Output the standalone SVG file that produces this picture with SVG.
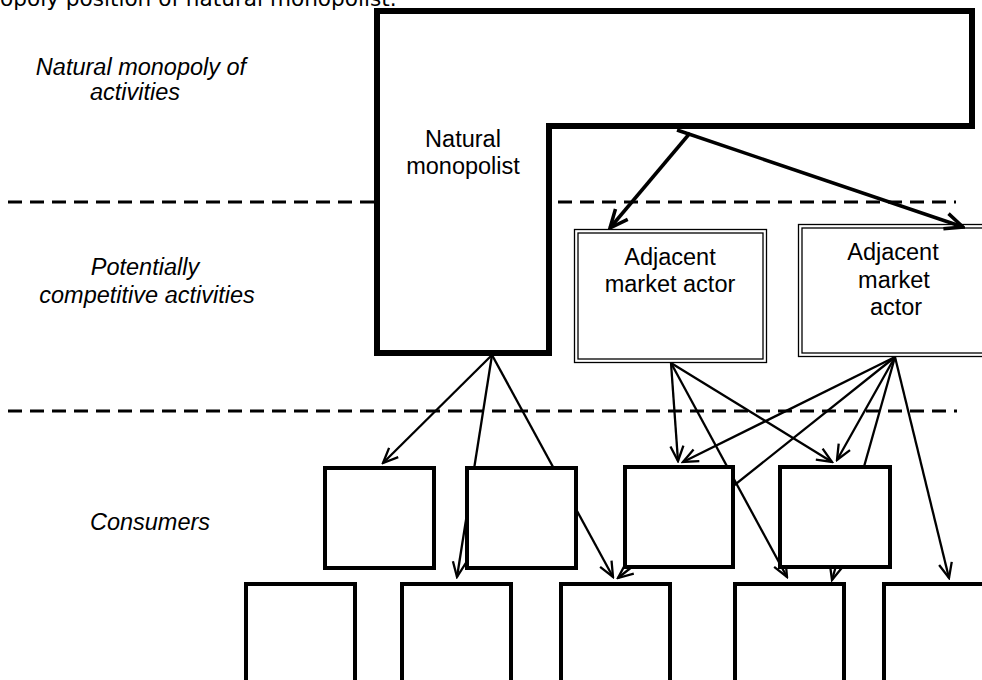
<svg xmlns="http://www.w3.org/2000/svg" width="982" height="680" viewBox="0 0 982 680">
<style>
.lbl{font-family:"Liberation Sans",Arial,sans-serif;font-size:23.5px;fill:#000;text-anchor:middle}
.it{font-style:italic}
.dash{stroke:#000;stroke-width:3;stroke-dasharray:14 8;fill:none}
.thick{fill:#fff;stroke:#000;stroke-width:6;stroke-linejoin:miter}
.dbl{fill:#fff;stroke:#000;stroke-width:1.3}
.cons{fill:#fff;stroke:#000;stroke-width:4}
.c1{stroke:#000;stroke-width:3.5;fill:none;marker-end:url(#ah1)}
.c2{stroke:#000;stroke-width:2.3;fill:none;marker-end:url(#ah2)}
</style>
<defs>
<marker id="ah1" markerUnits="userSpaceOnUse" viewBox="0 0 22 22" markerWidth="22" markerHeight="22" refX="20" refY="11" orient="auto">
<path d="M2,3 L20,11 L2,19" fill="none" stroke="#000" stroke-width="3.5"/>
</marker>
<marker id="ah2" markerUnits="userSpaceOnUse" viewBox="0 0 18 18" markerWidth="18" markerHeight="18" refX="16" refY="9" orient="auto">
<path d="M1,2.5 L16,9 L1,15.5" fill="none" stroke="#000" stroke-width="2.3"/>
</marker>
</defs>
<rect width="982" height="680" fill="#fff"/>
<text x="0" y="6" style="font-family:'DejaVu Sans',sans-serif;font-size:21.6px">opoly position of natural monopolist.</text>
<g id="labels">
<text class="lbl it" x="141" y="75">Natural monopoly of</text>
<text class="lbl it" x="135" y="100">activities</text>
<text class="lbl it" x="145" y="275">Potentially</text>
<text class="lbl it" x="147" y="303">competitive activities</text>
<text class="lbl it" x="150" y="530">Consumers</text>
</g>
<g id="dividers">
<line class="dash" x1="8" y1="202" x2="956" y2="202"/>
<line class="dash" x1="8" y1="411" x2="957" y2="411"/>
</g>
<g id="natural-monopolist">
<path class="thick" d="M377,11 H972 V126 H549 V353 H377 Z"/>
<text class="lbl" x="463" y="147">Natural</text>
<text class="lbl" x="463" y="174">monopolist</text>
</g>
<g id="adjacent-actor-1">
<rect class="dbl" x="574.5" y="229.5" width="192" height="133"/>
<rect class="dbl" x="578" y="233" width="185" height="126"/>
<text class="lbl" x="670" y="265">Adjacent</text>
<text class="lbl" x="670" y="292">market actor</text>
</g>
<g id="adjacent-actor-2">
<rect class="dbl" x="798.5" y="224.5" width="200" height="132"/>
<rect class="dbl" x="802" y="228" width="200" height="125"/>
<text class="lbl" x="893" y="260">Adjacent</text>
<text class="lbl" x="894" y="288">market</text>
<text class="lbl" x="896" y="315">actor</text>
</g>
<g id="connectors">
<line class="c1" x1="690" y1="133" x2="610" y2="228"/>
<line class="c1" x1="677" y1="130" x2="963" y2="227"/>
<line class="c2" x1="492" y1="355" x2="383" y2="463"/>
<line class="c2" x1="492" y1="355" x2="457" y2="577"/>
<line class="c2" x1="492" y1="355" x2="613" y2="577"/>
<line class="c2" x1="671" y1="363" x2="678" y2="461"/>
<line class="c2" x1="671" y1="363" x2="832" y2="462"/>
<line class="c2" x1="671" y1="363" x2="787" y2="577"/>
<line class="c2" x1="895" y1="357" x2="683" y2="462"/>
<line class="c2" x1="895" y1="357" x2="618" y2="578"/>
<line class="c2" x1="895" y1="357" x2="837" y2="460"/>
<line class="c2" x1="895" y1="357" x2="832" y2="580"/>
<line class="c2" x1="895" y1="357" x2="949" y2="578"/>
</g>
<g id="consumer-1"><rect class="cons" x="325" y="468" width="109" height="100"/></g>
<g id="consumer-2"><rect class="cons" x="467" y="468" width="109" height="100"/></g>
<g id="consumer-3"><rect class="cons" x="625" y="467" width="108" height="100"/></g>
<g id="consumer-4"><rect class="cons" x="780" y="467" width="110" height="100"/></g>
<g id="consumer-5"><rect class="cons" x="246" y="584" width="109" height="120"/></g>
<g id="consumer-6"><rect class="cons" x="402" y="584" width="109" height="120"/></g>
<g id="consumer-7"><rect class="cons" x="561" y="584" width="109" height="120"/></g>
<g id="consumer-8"><rect class="cons" x="735" y="584" width="109" height="120"/></g>
<g id="consumer-9"><rect class="cons" x="884" y="584" width="120" height="120"/></g>
</svg>
